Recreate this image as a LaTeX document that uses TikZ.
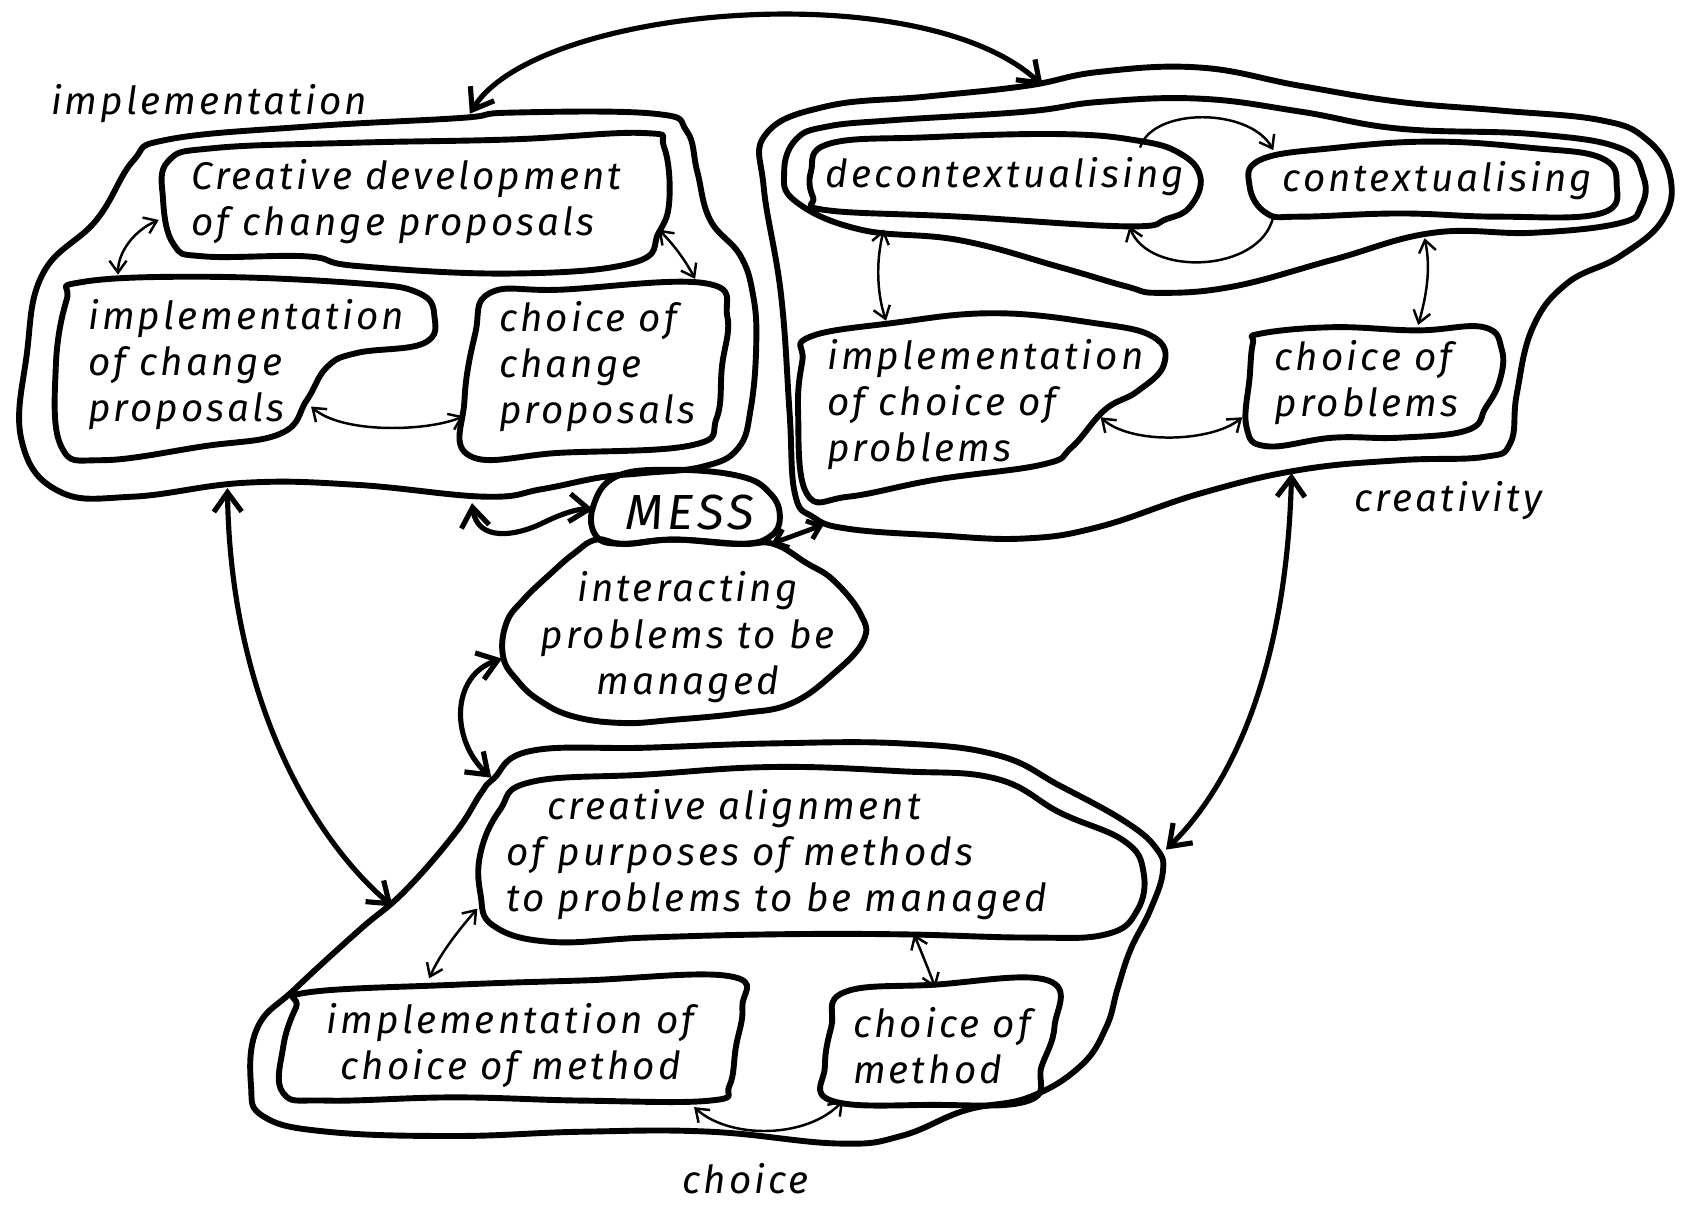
\documentclass[tikz,border=0pt]{standalone}
\usepackage{fontspec}
\setmainfont{Fira Sans}
\newfontfamily\hand{Fira Sans}[LetterSpace=8]
\usetikzlibrary{arrows.meta}

\begin{document}
\begin{tikzpicture}[x=1pt,y=-1pt,
  outline/.style={line width=5.5pt,line join=round,smooth cycle,tension=0.7},
  txt/.style={font=\hand\itshape\fontsize{36}{43}\selectfont,inner sep=0pt,align=left},
  lbl/.style={font=\hand\itshape\fontsize{36}{43}\selectfont,inner sep=0pt},
  link/.style={line width=2.3pt,line cap=round,
    {Straight Barb[length=11pt,width=16pt]}-{Straight Barb[length=11pt,width=16pt]}},
  halflink/.style={line width=2.3pt,line cap=round,-{Straight Barb[length=11pt,width=16pt]}},
  bond/.style={line width=4.8pt,line cap=round,
    {Straight Barb[length=18pt,width=26pt]}-{Straight Barb[length=18pt,width=26pt]}},
  shortbond/.style={line width=4.5pt,line cap=round,
    {Straight Barb[length=11pt,width=18pt]}-{Straight Barb[length=11pt,width=18pt]}},
]
\useasboundingbox (0,0) rectangle (1568,1127);

% ---------------- implementation cluster ----------------
\draw[outline] plot coordinates {(124,150) (157,130) (286,118) (429,110) (476,105) (610,106) (640,122) (650,160) (662,205) (690,238) (702,275) (705,320) (700,380) (688,418) (655,435) (600,441) (560,445) (505,456) (452,463) (333,452) (229,450) (124,463) (55,458) (20,410) (25,330) (40,255) (90,205)};
\draw[outline] plot coordinates {(157,150) (200,138) (333,133) (476,130) (600,124) (619,137) (624,186) (614,217) (590,245) (476,255) (333,248) (286,239) (190,239) (162,228) (152,186)};
\draw[outline] plot coordinates {(76,263) (190,258) (333,264) (390,273) (405,295) (395,320) (333,329) (305,342) (286,373) (262,404) (190,416) (95,429) (57,416) (52,342) (62,280)};
\draw[outline] plot coordinates {(457,273) (524,270) (657,264) (678,295) (673,342) (668,390) (645,415) (524,422) (438,425) (433,373) (443,311)};

\node[lbl] (implLbl) at (195,97) {implementation};
\node[txt,anchor=west] (cdev) at (178,188) {Creative development\\of change proposals};
\node[txt,anchor=west] (implCP) at (82,340) {implementation\\of change\\proposals};
\node[txt,anchor=west] (choiceCP) at (465,342) {choice of\\change\\proposals};

\coordinate (cdevL) at (148,205);  \coordinate (implCPt) at (110,256);
\coordinate (cdevR) at (614,214);  \coordinate (choiceCPt) at (648,260);
\coordinate (implCPr) at (290,379); \coordinate (choiceCPl) at (432,388);
\draw[link] (cdevL) .. controls (125,215) and (110,235) .. (implCPt);
\draw[link] (cdevR) .. controls (630,230) and (640,245) .. (choiceCPt);
\draw[link] (implCPr) .. controls (320,405) and (400,402) .. (choiceCPl);

% ---------------- creativity cluster ----------------
\draw[outline] plot coordinates {(714,125) (771,99) (864,90) (957,80) (1025,67) (1119,63) (1212,80) (1305,95) (1398,103) (1492,112) (1535,130) (1557,165) (1550,205) (1510,239) (1461,264) (1429,305) (1414,367) (1408,413) (1383,426) (1305,429) (1212,438) (1119,460) (1025,491) (955,502) (873,499) (791,493) (758,482) (741,460) (736,384) (728,274) (712,175)};
\draw[outline] plot coordinates {(731,160) (742,130) (771,118) (833,112) (957,104) (1025,95) (1119,92) (1212,104) (1305,120) (1429,125) (1510,138) (1532,165) (1530,192) (1510,208) (1429,217) (1336,217) (1243,242) (1150,267) (1081,273) (1050,267) (988,249) (895,224) (802,214) (742,188)};
\draw[outline] plot coordinates {(756,160) (773,134) (864,128) (988,125) (1060,131) (1100,143) (1119,165) (1110,192) (1088,204) (1050,211) (895,202) (771,196) (758,184)};
\draw[outline] plot coordinates {(1165,174) (1175,149) (1243,138) (1336,132) (1429,138) (1492,147) (1507,171) (1492,199) (1398,202) (1305,199) (1212,202) (1181,199)};
\draw[outline] plot coordinates {(755,314) (833,301) (926,292) (1019,301) (1075,314) (1085,340) (1060,365) (1030,382) (999,417) (972,433) (873,447) (791,463) (752,460) (744,384) (748,336)};
\draw[outline] plot coordinates {(1175,311) (1243,305) (1321,308) (1383,305) (1400,326) (1398,355) (1385,380) (1368,401) (1305,408) (1243,408) (1181,416) (1162,398) (1165,351) (1168,320)};

\node[lbl] (creaLbl) at (1350,467) {creativity};
\node[txt] (decon) at (937,165) {decontextualising};
\node[txt] (con) at (1340,168) {contextualising};
\node[txt,anchor=west] (implCoP) at (771,377) {implementation\\of choice of\\problems};
\node[txt,anchor=west] (choiceP) at (1188,357) {choice of\\problems};

\coordinate (deconT) at (1063,137); \coordinate (conT) at (1187,140);
\coordinate (conB) at (1187,202);   \coordinate (deconB) at (1053,211);
\draw[halflink] (deconT) .. controls (1075,100) and (1165,100) .. (conT);
\draw[halflink] (conB) .. controls (1175,255) and (1070,258) .. (deconB);
\coordinate (deconD) at (824,214); \coordinate (implCoPt) at (826,299);
\coordinate (conD) at (1328,222);  \coordinate (choicePt) at (1322,303);
\coordinate (implCoPr) at (1026,389); \coordinate (choicePl) at (1158,389);
\draw[link] (deconD) .. controls (816,245) and (818,275) .. (implCoPt);
\draw[link] (conD) .. controls (1334,250) and (1330,275) .. (choicePt);
\draw[link] (implCoPr) .. controls (1055,415) and (1130,412) .. (choicePl);

% ---------------- mess ----------------
\draw[outline] plot coordinates {(581,507) (556,503) (535,516) (513,535) (488,559) (472,581) (469,612) (482,634) (503,653) (535,668) (581,674) (628,671) (690,665) (737,656) (777,628) (805,597) (802,572) (777,541) (752,525) (721,507) (690,507) (628,503)};
\draw[outline] plot coordinates {(575,444) (628,438) (690,444) (718,460) (727,482) (718,500) (690,507) (628,503) (581,507) (556,500) (553,472)};
\node[font=\hand\itshape\fontsize{46}{50}\selectfont,inner sep=0pt] (mess) at (643,478) {MESS};
\node[lbl,align=center] (inter) at (641,594) {interacting\\problems to be\\managed};

% ---------------- choice cluster ----------------
\draw[outline] plot coordinates {(460,726) (495,700) (603,697) (721,693) (840,693) (930,704) (989,733) (1049,766) (1078,791) (1084,813) (1072,849) (1054,885) (1042,921) (1031,958) (1007,994) (959,1023) (900,1035) (840,1059) (781,1066) (662,1055) (543,1055) (424,1059) (305,1055) (246,1041) (234,1012) (240,958) (276,921) (335,867) (377,831) (424,777) (448,740)};
\draw[outline] plot coordinates {(495,729) (603,722) (721,715) (840,719) (929,726) (989,758) (1048,784) (1066,813) (1060,849) (1031,871) (959,874) (840,871) (721,871) (603,874) (513,878) (460,863) (448,834) (448,795) (466,755)};
\draw[outline] plot coordinates {(288,925) (424,918) (543,914) (680,910) (692,939) (686,976) (680,1012) (662,1026) (543,1026) (424,1023) (305,1026) (264,1019) (264,976) (276,939)};
\draw[outline] plot coordinates {(787,925) (870,918) (977,914) (983,957) (971,994) (959,1026) (870,1030) (775,1026) (769,994) (775,957)};

\node[lbl] (choiceLbl) at (695,1099) {choice};
\node[txt,anchor=west] (align) at (472,797) {\hspace*{38pt}creative alignment\\of purposes of methods\\to problems to be managed};
\node[txt,align=center] (implCM) at (476,975) {implementation of\\choice of method};
\node[txt,anchor=west] (choiceM) at (795,975) {choice of\\method};

\coordinate (alignL) at (445,847); \coordinate (implCMt) at (400,912);
\coordinate (alignB) at (852,871); \coordinate (choiceMt) at (872,921);
\coordinate (implCMb) at (647,1032); \coordinate (choiceMb) at (786,1026);
\draw[link] (alignL) .. controls (425,870) and (410,890) .. (implCMt);
\draw[link] (alignB) .. controls (860,890) and (866,905) .. (choiceMt);
\draw[link] (implCMb) .. controls (680,1062) and (752,1062) .. (choiceMb);

% ---------------- links between clusters ----------------
\coordinate (implTop) at (438,106);  \coordinate (creaTop) at (972,80);
\coordinate (implBot) at (212,455);  \coordinate (choiceTL) at (366,845);
\coordinate (creaBot) at (1204,441); \coordinate (choiceTR) at (1087,792);
\coordinate (implNearMess) at (440,469); \coordinate (messL) at (553,475);
\coordinate (messR) at (719,507); \coordinate (creaNearMess) at (768,489);
\coordinate (interL) at (468,614); \coordinate (choiceTop) at (458,725);

\draw[bond] (implTop) .. controls (500,5) and (860,-25) .. (creaTop);
\draw[bond] (implBot) .. controls (215,650) and (290,780) .. (choiceTL);
\draw[bond] (creaBot) .. controls (1200,600) and (1160,720) .. (choiceTR);
\draw[bond] (implNearMess) .. controls (445,505) and (480,500) .. (505,488)
            .. controls (525,478) and (540,474) .. (messL);
\draw[shortbond] (messR) -- (creaNearMess);
\draw[bond] (interL) .. controls (420,630) and (420,690) .. (choiceTop);
\end{tikzpicture}
\end{document}
